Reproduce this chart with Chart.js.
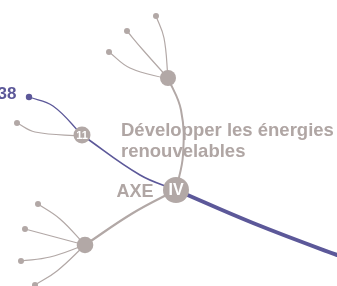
<!DOCTYPE html>
<html>
<head>
<meta charset="utf-8">
<script src="https://cdn.jsdelivr.net/npm/chart.js@4/dist/chart.umd.min.js"></script>
<style>
html,body{margin:0;padding:0;background:#fff;}
canvas{display:block;}
</style>
</head>
<body>
<canvas id="c" width="337" height="286"></canvas>
<script>
// ---- data (diagram coordinates) ----
const GRAY = '#b2a8a6';
const PURPLE = '#5c5899';

// main nodes: [x, y, radius]
const axeNode = [176, 190, 13];
const topNode = [168, 78, 8];
const bottomNode = [85, 245, 8.3];
const node11 = [82, 135, 8.5];

// leaf dots
const topLeaves = [[156, 16], [127, 31], [109, 52]];
const bottomLeaves = [[38, 204], [25, 229], [21, 261], [35, 285]];
const leaf11Gray = [17, 123];
const leaf38Purple = [29, 97];

// branch curves (start, middle, end)
const topBranches = [
  [[156, 16], [164, 38], [168, 78]],
  [[127, 31], [143, 50], [168, 78]],
  [[109, 52], [130, 68], [168, 79]]
];
const bottomBranches = [
  [[38, 204], [60, 219], [85, 245]],
  [[25, 229], [55, 237], [85, 245]],
  [[21, 261], [50, 257], [85, 245]],
  [[35, 285], [57, 271], [85, 245]]
];
const stemUp = [[168, 78], [181, 110], [183, 155], [176, 190]];
const stemDown = [[176, 190], [133, 213], [85, 245]];
const branch11Gray = [[17, 123], [35, 132], [82, 136]];
const branch38Purple = [[29, 97], [53, 106], [82, 135]];
const purpleThin = [[82, 135], [140, 175], [176, 190]];
const purpleThick = [[176, 190], [253, 223], [337, 255], [345, 257]];

// texts
const numberLabel = '38';
const titleLines = ['Développer les énergies', 'renouvelables'];
const axeLabel = 'AXE';
const axeNumber = 'IV';
const subNumber = '11';

// ---- build datasets ----
const pts = a => a.map(p => ({x: p[0], y: p[1]}));
const curve = (a, color, w, ord) => ({
  type: 'line', data: pts(a), showLine: true, tension: 0.4,
  borderColor: color, borderWidth: w, pointRadius: 0, fill: false,
  order: ord, clip: false, borderCapStyle: 'round'
});

const datasets = [];
// nodes on top
datasets.push({
  type: 'scatter',
  data: [axeNode, topNode, bottomNode, node11].map(n => ({x: n[0], y: n[1]})),
  pointRadius: [axeNode, topNode, bottomNode, node11].map(n => n[2]),
  pointBackgroundColor: GRAY, pointBorderWidth: 0, order: 0, clip: false
});
datasets.push({
  type: 'scatter',
  data: pts(topLeaves.concat(bottomLeaves, [leaf11Gray])),
  pointRadius: 3, pointBackgroundColor: GRAY, pointBorderWidth: 0, order: 0, clip: false
});
datasets.push({
  type: 'scatter', data: pts([leaf38Purple]),
  pointRadius: 3.2, pointBackgroundColor: PURPLE, pointBorderWidth: 0, order: 0, clip: false
});
topBranches.forEach(b => datasets.push(curve(b, GRAY, 1.2, 2)));
bottomBranches.forEach(b => datasets.push(curve(b, GRAY, 1.2, 2)));
datasets.push(curve(stemUp, GRAY, 2, 2));
datasets.push(curve(stemDown, GRAY, 2.2, 2));
datasets.push(curve(branch11Gray, GRAY, 1.2, 2));
datasets.push(curve(branch38Purple, PURPLE, 1.3, 1));
datasets.push(curve(purpleThin, PURPLE, 1.6, 1));
datasets.push(curve(purpleThick, PURPLE, 4, 1));

const textPlugin = {
  id: 'texts',
  afterDatasetsDraw(chart) {
    const {ctx, scales: {x, y}} = chart;
    const X = v => x.getPixelForValue(v), Y = v => y.getPixelForValue(v);
    ctx.save();
    ctx.textBaseline = 'alphabetic';
    // 38
    ctx.fillStyle = PURPLE;
    ctx.font = 'bold 17px "Liberation Sans", Arial, sans-serif';
    ctx.textAlign = 'right';
    ctx.fillText(numberLabel, X(16.5), Y(99));
    // title
    ctx.fillStyle = '#b0a6a4';
    ctx.font = 'bold 18.5px "Liberation Sans", Arial, sans-serif';
    ctx.textAlign = 'left';
    ctx.fillText(titleLines[0], X(121), Y(136));
    ctx.fillText(titleLines[1], X(121), Y(156.5));
    // AXE
    ctx.font = 'bold 18px "Liberation Sans", Arial, sans-serif';
    ctx.textAlign = 'right';
    ctx.fillText(axeLabel, X(153.5), Y(196.5));
    // IV
    ctx.fillStyle = '#ffffff';
    ctx.textAlign = 'center';
    ctx.textBaseline = 'middle';
    ctx.font = 'bold 16px "Liberation Sans", Arial, sans-serif';
    ctx.fillText(axeNumber, X(axeNode[0]), Y(axeNode[1] + 0.5));
    ctx.font = 'bold 11px "Liberation Sans", Arial, sans-serif';
    ctx.fillText(subNumber, X(node11[0]), Y(node11[1] + 0.5));
    ctx.restore();
  }
};

new Chart(document.getElementById('c'), {
  type: 'scatter',
  data: {datasets},
  options: {
    responsive: false,
    devicePixelRatio: 1,
    animation: false,
    layout: {padding: 0, autoPadding: false},
    plugins: {legend: {display: false}, tooltip: {enabled: false}},
    scales: {
      x: {type: 'linear', min: 0, max: 337, display: false},
      y: {type: 'linear', min: 0, max: 286, reverse: true, display: false}
    }
  },
  plugins: [textPlugin]
});
</script>
</body>
</html>
